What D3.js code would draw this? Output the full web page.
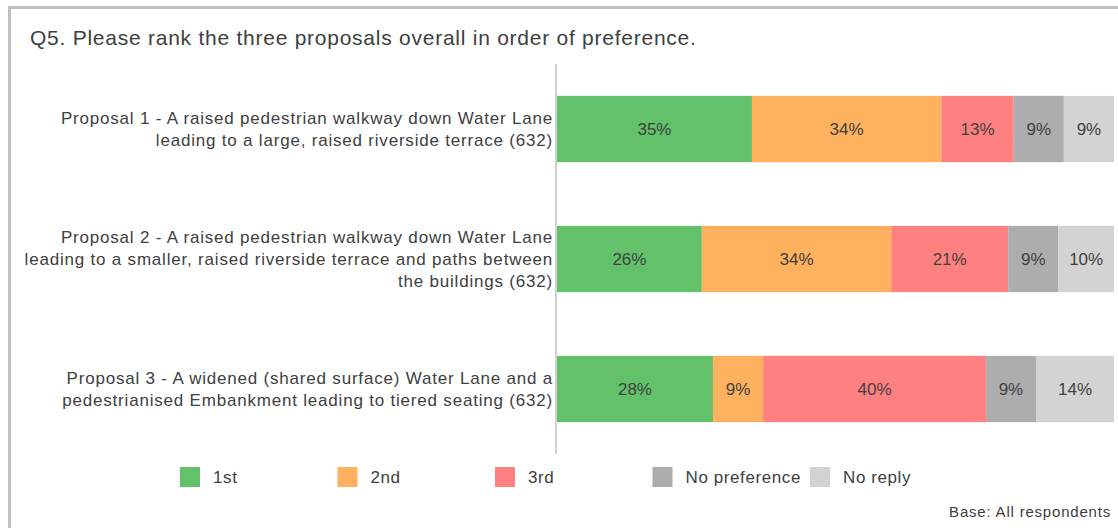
<!DOCTYPE html>
<html>
<head>
<meta charset="utf-8">
<script src="https://cdn.jsdelivr.net/npm/d3@7"></script>
<style>
  body { margin: 0; background: #fff; }
  svg { display: block; font-family: "Liberation Sans", Arial, sans-serif; }
</style>
</head>
<body>
<div id="chart"></div>
<script>
// proposals, top to bottom
const proposals = ['Proposal 1', 'Proposal 2', 'Proposal 3'];
const proposalLabels = [
    ['Proposal 1 - A raised pedestrian walkway down Water Lane', 'leading to a large, raised riverside terrace (632)'],
    ['Proposal 2 - A raised pedestrian walkway down Water Lane', 'leading to a smaller, raised riverside terrace and paths between', 'the buildings (632)'],
    ['Proposal 3 - A widened (shared surface) Water Lane and a', 'pedestrianised Embankment leading to tiered seating (632)']
];

const seriesNames = ['1st', '2nd', '3rd', 'No preference', 'No reply'];
const seriesColors = ['#62c169', '#ffb15d', '#ff8080', '#adadad', '#d3d3d3'];

const first = [35, 26, 28];
const second = [34, 34, 9];
const third = [13, 21, 40];
const noPreference = [9, 9, 9];
const noReply = [9, 10, 14];

const seriesValues = [first, second, third, noPreference, noReply];

let width = 1118;
let height = 528;

let svg = d3.select('#chart').append('svg')
    .attr('width', width)
    .attr('height', height);

// frame (only top and left edges show)
svg.append('path')
    .attr('d', 'M9.5,' + height + 'V7.5H' + width)
    .attr('fill', 'none')
    .attr('stroke', '#c0c0c0')
    .attr('stroke-width', 3);

svg.append('text')
    .attr('x', 30)
    .attr('y', 45)
    .attr('fill', '#404040')
    .style('font-size', '21px')
    .style('letter-spacing', '0.75px')
    .text('Q5. Please rank the three proposals overall in order of preference.');

let x = d3.scaleLinear().domain([0, 100]).range([557, 1114]);
let y = d3.scaleBand().domain(proposals).range([64, 454]).paddingInner(0.49).paddingOuter(0.245);

let rows = proposals.map(function(p, i) {
    let row = { key: p };
    seriesNames.forEach(function(s, j) { row[s] = seriesValues[j][i]; });
    return row;
});

let stacked = d3.stack().keys(seriesNames)(rows);

let layers = svg.append('g').selectAll('g')
    .data(stacked)
    .join('g')
    .attr('fill', function(d, i) { return seriesColors[i]; });

layers.selectAll('rect')
    .data(function(d) { return d; })
    .join('rect')
    .attr('x', function(d) { return x(d[0]); })
    .attr('width', function(d) { return x(d[1]) - x(d[0]); })
    .attr('y', function(d) { return y(d.data.key); })
    .attr('height', y.bandwidth());

layers.selectAll('text')
    .data(function(d) { return d; })
    .join('text')
    .attr('x', function(d) { return (x(d[0]) + x(d[1])) / 2; })
    .attr('y', function(d) { return y(d.data.key) + y.bandwidth() / 2; })
    .attr('dy', '0.35em')
    .attr('text-anchor', 'middle')
    .attr('fill', '#404040')
    .style('font-size', '17px')
    .text(function(d) { return (d[1] - d[0]) + '%'; });

// vertical axis line
svg.append('line')
    .attr('x1', 556).attr('x2', 556)
    .attr('y1', 64).attr('y2', 454)
    .attr('stroke', '#d0d0d0')
    .attr('stroke-width', 2);

// category labels
let lineHeight = 22;
proposals.forEach(function(p, i) {
    let lines = proposalLabels[i];
    let cy = y(p) + y.bandwidth() / 2;
    let t = svg.append('text')
        .attr('text-anchor', 'end')
        .attr('fill', '#404040')
        .style('font-size', '17px')
        .style('letter-spacing', '0.8px');
    lines.forEach(function(line, k) {
        t.append('tspan')
            .attr('x', 553)
            .attr('y', cy + (k - (lines.length - 1) / 2) * lineHeight)
            .attr('dy', '0.35em')
            .text(line);
    });
});

// legend
let legend = svg.append('g').selectAll('g')
    .data(seriesNames)
    .join('g')
    .attr('transform', function(d, i) { return 'translate(' + (180 + i * 157.5) + ',467)'; });

legend.append('rect')
    .attr('width', 20)
    .attr('height', 20)
    .attr('fill', function(d, i) { return seriesColors[i]; });

legend.append('text')
    .attr('x', 33)
    .attr('y', 10)
    .attr('dy', '0.35em')
    .attr('fill', '#404040')
    .style('font-size', '17px')
    .style('letter-spacing', '0.6px')
    .text(function(d) { return d; });

svg.append('text')
    .attr('x', 1111)
    .attr('y', 517)
    .attr('text-anchor', 'end')
    .attr('fill', '#404040')
    .style('font-size', '15px')
    .style('letter-spacing', '0.8px')
    .text('Base: All respondents');
</script>
</body>
</html>
